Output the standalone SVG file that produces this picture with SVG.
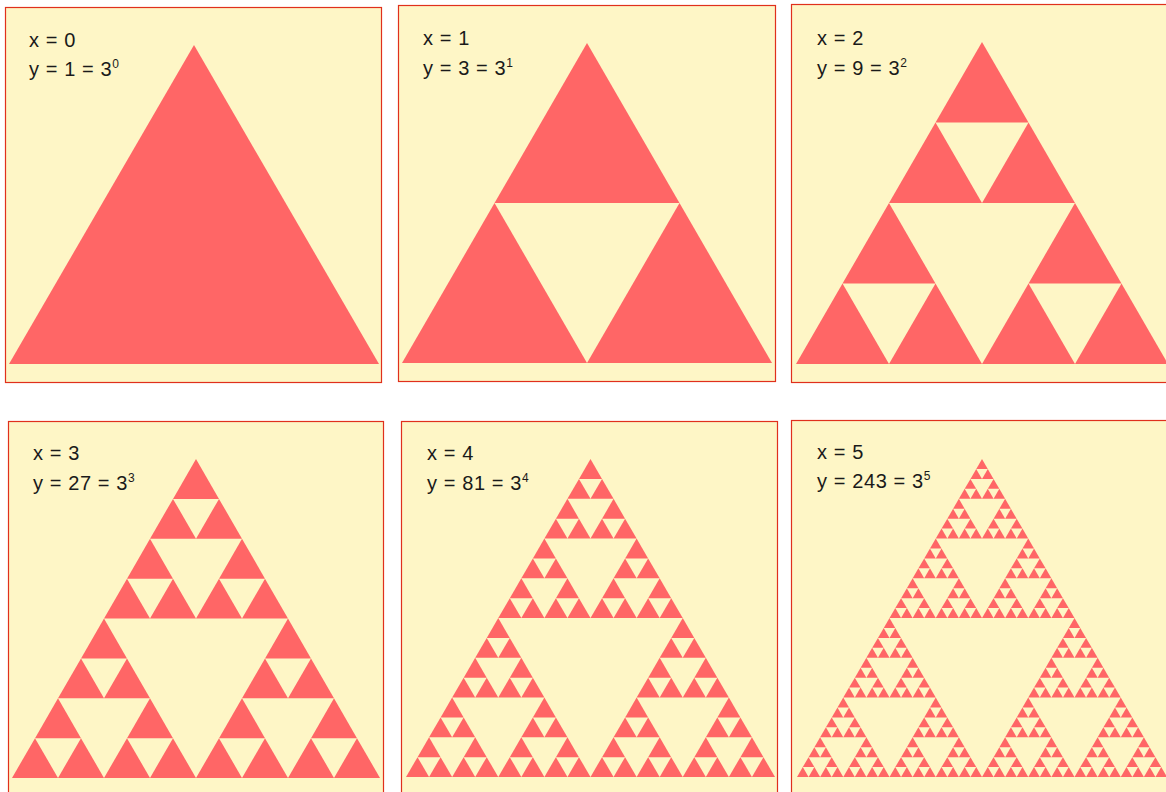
<svg xmlns="http://www.w3.org/2000/svg" xmlns:xlink="http://www.w3.org/1999/xlink" width="1166" height="792" viewBox="0 0 1166 792">
<style>
.panel{fill:#FEF6C6;stroke:#E0301C;stroke-width:1.2}
.lbl{font-family:"Liberation Sans",Arial,sans-serif;font-size:20px;letter-spacing:0.6px;fill:#1a1a1a}
.sup{font-size:12px;letter-spacing:0}
.tri{fill:#FF6666}
</style>
<defs>
<polygon id="s0" class="tri" points="0.5,0 0,1 1,1"/>
<g id="s1"><use xlink:href="#s0" transform="translate(0.25,0) scale(0.5)"/><use xlink:href="#s0" transform="translate(0,0.5) scale(0.5)"/><use xlink:href="#s0" transform="translate(0.5,0.5) scale(0.5)"/></g>
<g id="s2"><use xlink:href="#s1" transform="translate(0.25,0) scale(0.5)"/><use xlink:href="#s1" transform="translate(0,0.5) scale(0.5)"/><use xlink:href="#s1" transform="translate(0.5,0.5) scale(0.5)"/></g>
<g id="s3"><use xlink:href="#s2" transform="translate(0.25,0) scale(0.5)"/><use xlink:href="#s2" transform="translate(0,0.5) scale(0.5)"/><use xlink:href="#s2" transform="translate(0.5,0.5) scale(0.5)"/></g>
<g id="s4"><use xlink:href="#s3" transform="translate(0.25,0) scale(0.5)"/><use xlink:href="#s3" transform="translate(0,0.5) scale(0.5)"/><use xlink:href="#s3" transform="translate(0.5,0.5) scale(0.5)"/></g>
<g id="s5"><use xlink:href="#s4" transform="translate(0.25,0) scale(0.5)"/><use xlink:href="#s4" transform="translate(0,0.5) scale(0.5)"/><use xlink:href="#s4" transform="translate(0.5,0.5) scale(0.5)"/></g>
</defs>
<rect width="1166" height="792" fill="#ffffff"/>

<g id="panel0">
<rect class="panel" x="5.5" y="7.5" width="376" height="375"/>
<use xlink:href="#s0" transform="translate(9,45) scale(370,319)"/>
<text class="lbl" x="29" y="47">x = 0</text>
<text class="lbl" x="29" y="76">y = 1 = 3<tspan class="sup" dy="-8">0</tspan></text>
</g>

<g id="panel1">
<rect class="panel" x="398.5" y="5.5" width="377" height="376"/>
<use xlink:href="#s1" transform="translate(402,43) scale(370,320)"/>
<text class="lbl" x="423" y="45">x = 1</text>
<text class="lbl" x="423" y="75">y = 3 = 3<tspan class="sup" dy="-8">1</tspan></text>
</g>

<g id="panel2">
<rect class="panel" x="791.5" y="4.5" width="390" height="378"/>
<use xlink:href="#s2" transform="translate(796,42) scale(372,322)"/>
<text class="lbl" x="817" y="45">x = 2</text>
<text class="lbl" x="817" y="75">y = 9 = 3<tspan class="sup" dy="-8">2</tspan></text>
</g>

<g id="panel3">
<rect class="panel" x="8.5" y="421.5" width="375" height="390"/>
<use xlink:href="#s3" transform="translate(12,459) scale(368,319)"/>
<text class="lbl" x="33" y="460">x = 3</text>
<text class="lbl" x="33" y="490">y = 27 = 3<tspan class="sup" dy="-8">3</tspan></text>
</g>

<g id="panel4">
<rect class="panel" x="401.5" y="421.5" width="376" height="390"/>
<use xlink:href="#s4" transform="translate(406,459) scale(369,318)"/>
<text class="lbl" x="427" y="460">x = 4</text>
<text class="lbl" x="427" y="490">y = 81 = 3<tspan class="sup" dy="-8">4</tspan></text>
</g>

<g id="panel5">
<rect class="panel" x="791.5" y="420.5" width="390" height="390"/>
<use xlink:href="#s5" transform="translate(797,459) scale(370,318)"/>
<text class="lbl" x="817" y="459">x = 5</text>
<text class="lbl" x="817" y="488">y = 243 = 3<tspan class="sup" dy="-8">5</tspan></text>
</g>
</svg>
